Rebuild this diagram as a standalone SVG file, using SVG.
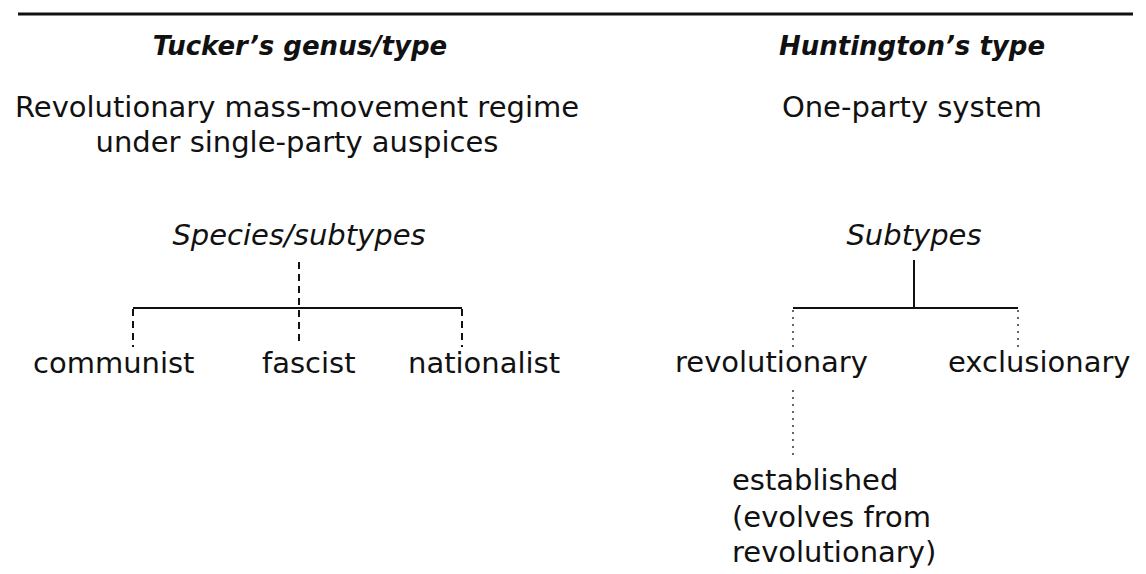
<svg xmlns="http://www.w3.org/2000/svg" width="1146" height="574" viewBox="0 0 1146 574">
  <style>
    text { font-family: "DejaVu Sans", "Liberation Sans", sans-serif; fill: #111; }
    .head { font-size: 26px; font-weight: bold; font-style: italic; text-anchor: middle; }
    .body { font-size: 29px; }
    .mid { text-anchor: middle; }
    .sub { font-size: 29px; font-style: italic; text-anchor: middle; }
    .solid { stroke: #111; stroke-width: 2; fill: none; }
    .dash { stroke: #111; stroke-width: 2; stroke-dasharray: 7 5; fill: none; }
    .dot { stroke: #333; stroke-width: 1.5; stroke-dasharray: 2 5; fill: none; }
  </style>
  <rect width="1146" height="574" fill="#fff"/>

  <!-- top rule -->
  <line x1="18" y1="14" x2="1133" y2="14" stroke="#111" stroke-width="3"/>

  <!-- Tucker column -->
  <g id="tucker-head">
    <text class="head" x="300" y="55">Tucker’s genus/type</text>
  </g>
  <g id="tucker-genus">
    <text class="body mid" x="297" y="117">Revolutionary mass-movement regime</text>
    <text class="body mid" x="297" y="152">under single-party auspices</text>
  </g>
  <g id="tucker-species">
    <text class="sub" x="299" y="245">Species/subtypes</text>
  </g>
  <g id="communist"><text class="body" x="33" y="373">communist</text></g>
  <g id="fascist"><text class="body" x="262" y="373">fascist</text></g>
  <g id="nationalist"><text class="body" x="408" y="373">nationalist</text></g>

  <!-- Huntington column -->
  <g id="huntington-head">
    <text class="head" x="912" y="55">Huntington’s type</text>
  </g>
  <g id="one-party">
    <text class="body mid" x="912" y="117">One-party system</text>
  </g>
  <g id="huntington-subtypes">
    <text class="sub" x="914" y="245">Subtypes</text>
  </g>
  <g id="revolutionary"><text class="body" x="675" y="372">revolutionary</text></g>
  <g id="exclusionary"><text class="body" x="948" y="372">exclusionary</text></g>
  <g id="established">
    <text class="body" x="732" y="490">established</text>
    <text class="body" x="732" y="527">(evolves from</text>
    <text class="body" x="732" y="562">revolutionary)</text>
  </g>

  <!-- connectors -->
  <g id="connectors">
    <line class="dash" x1="299" y1="262" x2="299" y2="345"/>
    <line class="solid" x1="133" y1="308" x2="462" y2="308"/>
    <line class="dash" x1="133" y1="309" x2="133" y2="347"/>
    <line class="dash" x1="462" y1="309" x2="462" y2="347"/>

    <line class="solid" x1="914" y1="260" x2="914" y2="308"/>
    <line class="solid" x1="793" y1="308" x2="1018" y2="308"/>
    <line class="dot" x1="793" y1="310" x2="793" y2="347"/>
    <line class="dot" x1="1018" y1="310" x2="1018" y2="347"/>
    <line class="dot" x1="793" y1="390" x2="793" y2="455"/>
  </g>
</svg>
